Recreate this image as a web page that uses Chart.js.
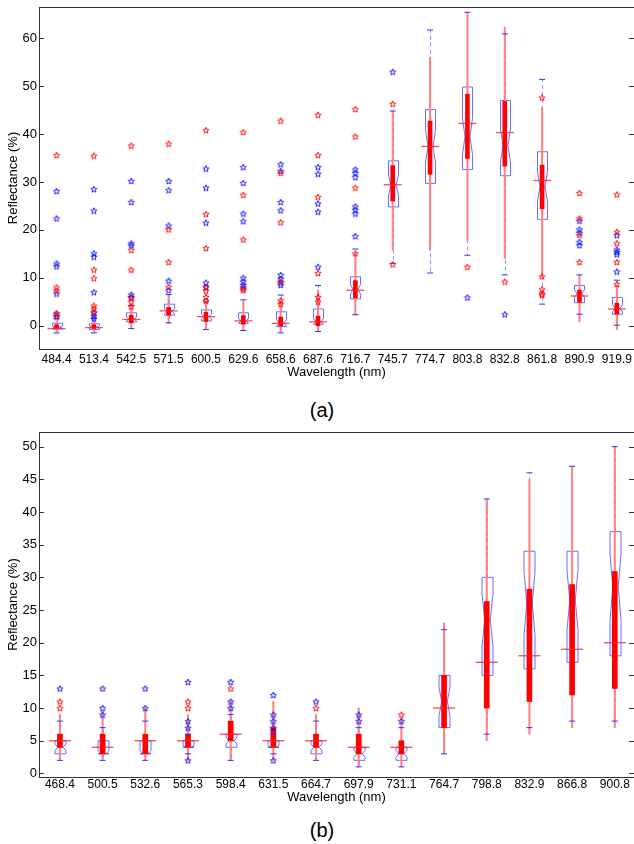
<!DOCTYPE html>
<html>
<head>
<meta charset="utf-8">
<script src="https://cdn.jsdelivr.net/npm/chart.js@4.4.1/dist/chart.umd.min.js"></script>
<style>
  body { margin: 0; width: 634px; height: 844px; overflow: hidden; background: #fff; position: relative;
         font-family: "Liberation Sans", Arial, sans-serif; }
  canvas { position: absolute; left: 0; }
  .cap { position: absolute; left: 0; width: 644px; text-align: center; font-size: 20px; line-height: 24px; color: #000; }
</style>
</head>
<body>
<canvas id="chartA" width="640" height="380" style="top:0"></canvas>
<div class="cap" style="top:398px">(a)</div>
<canvas id="chartB" width="640" height="380" style="top:425px"></canvas>
<div class="cap" style="top:818px">(b)</div>
<script>
// ---- panel (a) ----
const aLabels = ['484.4', '513.4', '542.5', '571.5', '600.5', '629.6', '658.6', '687.6',
                 '716.7', '745.7', '774.7', '803.8', '832.8', '861.8', '890.9', '919.9'];
const aTicks = [0, 10, 20, 30, 40, 50, 60];

const aBlueLo  = [-1.5, -1.5, -0.6, 0.6, -0.8, -1.0, -1.5, -1.2, 2.3, 13.0, 11.0, 14.7, 10.6, 4.5, 2.4, 0.1];
const aBlueQ1  = [-0.7, -0.8, 0.8, 2.2, 1.0, 0.5, -0.2, 0.3, 5.6, 24.8, 29.7, 32.6, 31.3, 22.2, 4.8, 2.4];
const aBlueMed = [-0.3, -0.3, 1.4, 3.0, 1.9, 1.0, 0.6, 0.8, 7.6, 29.3, 37.4, 39.5, 37.6, 29.0, 6.7, 3.6];
const aBlueQ3  = [0.5, 0.4, 2.7, 4.5, 3.3, 2.7, 2.9, 3.5, 10.2, 34.4, 45.1, 49.8, 47.0, 36.3, 8.4, 5.9];
const aBlueHi  = [1.5, 1.5, 4.2, 6.5, 5.0, 5.4, 6.4, 8.4, 16.0, 44.8, 61.7, 65.4, 60.9, 51.4, 10.6, 9.5];
const aBlueOut = [
  [1.9, 2.5, 6.7, 12.4, 13.0, 22.4, 28.1],
  [1.5, 2.0, 2.6, 7.0, 14.4, 15.1, 24.0, 28.5],
  [6.0, 6.5, 16.8, 17.2, 25.8, 30.2],
  [7.4, 9.4, 20.9, 28.3, 30.2],
  [8.1, 9.0, 21.5, 28.8, 32.8],
  [8.0, 8.5, 9.2, 10.0, 21.8, 23.4, 29.8, 33.1],
  [8.5, 9.0, 9.8, 10.6, 24.1, 25.8, 32.3, 33.7],
  [12.3, 23.8, 25.5, 31.7, 33.1],
  [18.7, 23.4, 24.2, 24.9, 31.0, 31.9, 32.6],
  [53.0], [], [5.9], [2.4], [],
  [16.8, 17.5, 19.4, 20.1, 21.9],
  [11.3, 14.9, 15.4, 15.9, 18.9]
];

const aRedLo  = [-1.2, -1.2, -0.5, 0.5, -0.6, -0.9, -1.4, -1.2, 2.2, 15.8, 15.8, 17.8, 14.0, 10.2, 0.8, -0.8];
const aRedQ1  = [-0.6, -0.6, 0.6, 2.2, 0.9, 0.3, -0.1, 0.0, 5.8, 26.0, 31.6, 34.9, 33.3, 24.4, 4.9, 2.4];
const aRedMed = [-0.6, -0.4, 1.3, 3.1, 1.9, 1.0, 0.5, 0.8, 7.4, 29.4, 37.4, 42.2, 40.3, 30.3, 6.2, 3.5];
const aRedQ3  = [0.2, 0.2, 2.2, 3.8, 2.8, 2.1, 1.8, 2.0, 9.4, 33.4, 42.7, 48.3, 46.8, 33.5, 7.4, 4.7];
const aRedHi  = [1.0, 1.5, 4.0, 6.5, 5.0, 5.2, 5.5, 7.5, 15.0, 44.8, 56.0, 65.4, 62.3, 45.5, 10.6, 8.5];
const aRedOut = [
  [2.0, 2.6, 7.3, 8.0, 35.6],
  [2.9, 3.6, 4.2, 9.9, 11.7, 35.5],
  [4.0, 5.0, 5.8, 11.7, 15.8, 37.6],
  [8.1, 13.3, 20.1, 38.0],
  [5.2, 6.0, 7.3, 8.0, 16.2, 23.3, 40.8],
  [7.4, 7.7, 18.0, 27.3, 40.4],
  [4.5, 5.3, 9.2, 21.6, 31.9, 42.8],
  [5.0, 6.0, 11.0, 26.9, 35.6, 44.0],
  [15.1, 28.8, 39.5, 45.2],
  [12.8, 46.3], [], [12.3], [9.2],
  [6.4, 6.7, 7.6, 10.3, 47.6],
  [13.3, 18.9, 22.4, 27.7],
  [8.7, 13.3, 17.2, 19.6, 27.4]
];

// ---- panel (b) ----
const bLabels = ['468.4', '500.5', '532.6', '565.3', '598.4', '631.5', '664.7',
                 '697.9', '731.1', '764.7', '798.8', '832.9', '866.8', '900.8'];
const bTicks = [0, 5, 10, 15, 20, 25, 30, 35, 40, 45, 50];

const bBlueLo  = [2, 2, 2, 3, 2, 3, 2, 1, 1, 3, 6, 7, 8, 8];
const bBlueQ1  = [3, 3, 3, 4, 4, 4, 3, 2, 2, 7, 15, 16, 17, 18];
const bBlueMed = [4, 3, 3, 4, 5, 4, 4, 3, 3, 11, 23.5, 26, 26.5, 28.5];
const bBlueQ3  = [5, 5, 5, 5, 6, 5, 5, 4, 4, 15, 30, 34, 34, 37];
const bBlueHi  = [8, 7, 8, 6, 9, 6, 8, 7, 7, 22, 42, 46, 47, 50];
const bBlueOut = [[13], [9, 10, 13], [10, 13], [2, 7, 8, 14], [10, 11, 14], [2, 7, 8, 9, 12], [11],
                  [8, 9], [8], [], [], [], [], []];

const bRedLo  = [2, 2, 2, 2, 2, 2, 2, 1, 1, 3, 5, 6, 7, 7];
const bRedQ1  = [4, 3, 3, 4, 5, 4, 4, 3, 3, 7, 10, 11, 12, 13];
const bRedMed = [5, 4, 5, 5, 6, 5, 5, 4, 4, 10, 17, 18, 19, 20];
const bRedQ3  = [6, 6, 6, 6, 8, 7, 6, 6, 5, 15, 26.3, 28.2, 28.9, 30.9];
const bRedHi  = [9, 9.5, 10, 9, 11, 11, 9, 10, 8.5, 23, 42, 45, 47, 50];
const bRedOut = [[10, 11], [], [], [10, 11], [13], [], [10], [], [9], [], [], [], [], []];

Chart.defaults.font.family = '"Liberation Sans", Arial, sans-serif';
Chart.defaults.color = '#000';

function starImage(color) {
  const c = document.createElement('canvas');
  c.width = 8;
  c.height = 8;
  const g = c.getContext('2d');
  g.strokeStyle = color;
  g.lineWidth = 0.9;
  g.beginPath();
  for (let i = 0; i < 10; i++) {
    const r = i % 2 ? 1.4 : 3.3;
    const a = -Math.PI / 2 + i * Math.PI / 5;
    const x = 4 + r * Math.cos(a), y = 4.4 + r * Math.sin(a);
    if (i) g.lineTo(x, y); else g.moveTo(x, y);
  }
  g.closePath();
  g.stroke();
  return c;
}

// notched blue boxes, dashed whiskers, frame and inner ticks
function boxPlugin(s) {
  return {
    id: 'boxes',
    beforeDatasetsDraw(chart) {
      const { ctx } = chart;
      const x = chart.scales.x, y = chart.scales.y;
      ctx.save();
      ctx.lineWidth = 1;
      s.blueMed.forEach((m, i) => {
        const cx = Math.round(x.getPixelForValue(i)) + 0.5;
        const w = s.boxHalf, xl = cx - w, xr = cx + w;
        const nd = (s.blueQ3[i] - s.blueQ1[i]) * s.notch;
        const q1 = y.getPixelForValue(s.blueQ1[i]);
        const q3 = y.getPixelForValue(s.blueQ3[i]);
        const n1 = y.getPixelForValue(Math.max(s.blueQ1[i], m - nd));
        const n2 = y.getPixelForValue(Math.min(s.blueQ3[i], m + nd));
        const ym = y.getPixelForValue(m);

        ctx.setLineDash([4, 3]);
        ctx.strokeStyle = 'rgba(70,70,255,0.6)';
        ctx.beginPath();
        ctx.moveTo(cx, q3);
        ctx.lineTo(cx, y.getPixelForValue(s.blueHi[i]));
        ctx.moveTo(cx, q1);
        ctx.lineTo(cx, y.getPixelForValue(s.blueLo[i]));
        ctx.stroke();
        ctx.setLineDash([]);

        ctx.strokeStyle = 'rgba(60,60,255,0.75)';
        ctx.beginPath();
        ctx.moveTo(xl, q1);
        ctx.lineTo(xl, n1);
        ctx.lineTo(xl + w / 2, ym);
        ctx.lineTo(xl, n2);
        ctx.lineTo(xl, q3);
        ctx.lineTo(xr, q3);
        ctx.lineTo(xr, n2);
        ctx.lineTo(xr - w / 2, ym);
        ctx.lineTo(xr, n1);
        ctx.lineTo(xr, q1);
        ctx.closePath();
        ctx.stroke();

        ctx.beginPath();
        ctx.moveTo(xl + w / 2, ym);
        ctx.lineTo(xr - w / 2, ym);
        ctx.stroke();
      });
      ctx.restore();
    },
    afterDraw(chart) {
      const { ctx, chartArea: a } = chart;
      const y = chart.scales.y;
      ctx.save();
      ctx.strokeStyle = '#333';
      ctx.lineWidth = 1;
      ctx.strokeRect(a.left + 0.5, a.top + 0.5, a.right - a.left, a.bottom - a.top);
      ctx.beginPath();
      y.ticks.forEach(t => {
        const py = Math.round(y.getPixelForValue(t.value)) + 0.5;
        ctx.moveTo(a.left, py);
        ctx.lineTo(a.left + 5, py);
        ctx.moveTo(a.right - 5, py);
        ctx.lineTo(a.right, py);
      });
      ctx.stroke();
      ctx.restore();
    }
  };
}

function makeChart(id, s) {
  const pts = arr => arr.map((v, i) => ({ x: i, y: v }));
  const range = (lo, hi) => lo.map((v, i) => ({ x: i, y: [v, hi[i]] }));
  const outs = arr => arr.flatMap((vals, i) => vals.map(v => ({ x: i, y: v })));

  return new Chart(document.getElementById(id), {
    type: 'bar',
    data: {
      datasets: [
        { type: 'line', label: 'red outliers', data: outs(s.redOut), showLine: false,
          pointStyle: starImage('#ff0000') },
        { type: 'line', label: 'blue outliers', data: outs(s.blueOut), showLine: false,
          pointStyle: starImage('#1010ff') },
        { type: 'line', label: 'blue whisker ends', data: pts(s.blueLo).concat(pts(s.blueHi)), showLine: false,
          pointStyle: 'line', pointRadius: 3, pointBorderColor: '#3030ff', pointBorderWidth: 1 },
        { type: 'line', label: 'red median', data: pts(s.redMed), showLine: false,
          pointStyle: 'line', pointRadius: s.medHalf, pointBorderColor: 'rgba(255,30,30,0.8)', pointBorderWidth: 1.3 },
        { label: 'red IQR', data: range(s.redQ1, s.redQ3), backgroundColor: '#ff0000',
          barThickness: s.redBarW, grouped: false },
        { label: 'red whisker', data: range(s.redLo, s.redHi), backgroundColor: 'rgb(255,130,130)',
          barThickness: 1.4, grouped: false }
      ]
    },
    options: {
      responsive: false,
      animation: false,
      events: [],
      layout: { autoPadding: false, padding: { top: 7, right: 6, left: 0, bottom: 0 } },
      plugins: { legend: { display: false }, tooltip: { enabled: false } },
      scales: {
        x: {
          type: 'linear', offset: false, min: s.xMin, max: s.xMax,
          grid: { display: false, drawTicks: false }, border: { display: false },
          afterBuildTicks: sc => { sc.ticks = s.labels.map((_, i) => ({ value: i })); },
          ticks: { callback: v => s.labels[Math.round(v)], autoSkip: false, maxRotation: 0,
                   padding: s.tickPad, font: { size: 12 } },
          title: { display: true, text: 'Wavelength (nm)', font: { size: 13 }, padding: { top: 0, bottom: 0 } },
          afterFit: sc => { sc.height = s.xHeight; sc.paddingLeft = 0; sc.paddingRight = 0; }
        },
        y: {
          min: s.yMin, max: s.yMax,
          grid: { display: false, drawTicks: false }, border: { display: false },
          afterBuildTicks: sc => { sc.ticks = s.ticks.map(v => ({ value: v })); },
          ticks: { padding: 2, font: { size: 13 } },
          title: { display: true, text: 'Reflectance (%)', font: { size: 13 }, padding: { top: 6, bottom: 0 } },
          afterFit: sc => { sc.width = 39; sc.paddingTop = 0; sc.paddingBottom = 0; }
        }
      }
    },
    plugins: [boxPlugin(s)]
  });
}

makeChart('chartA', {
  labels: aLabels, ticks: aTicks,
  blueLo: aBlueLo, blueQ1: aBlueQ1, blueMed: aBlueMed, blueQ3: aBlueQ3, blueHi: aBlueHi, blueOut: aBlueOut,
  redLo: aRedLo, redQ1: aRedQ1, redMed: aRedMed, redQ3: aRedQ3, redHi: aRedHi, redOut: aRedOut,
  xMin: -0.47, xMax: 15.46, yMin: -4.86, yMax: 66.5,
  boxHalf: 5, notch: 0.22, medHalf: 9, redBarW: 4, xHeight: 31, tickPad: 3
});

makeChart('chartB', {
  labels: bLabels, ticks: bTicks,
  blueLo: bBlueLo, blueQ1: bBlueQ1, blueMed: bBlueMed, blueQ3: bBlueQ3, blueHi: bBlueHi, blueOut: bBlueOut,
  redLo: bRedLo, redQ1: bRedQ1, redMed: bRedMed, redQ3: bRedQ3, redHi: bRedHi, redOut: bRedOut,
  xMin: -0.49, xMax: 13.45, yMin: -0.55, yMax: 52.25,
  boxHalf: 5.5, notch: 0.27, medHalf: 11, redBarW: 5, xHeight: 28, tickPad: 0.5
});
</script>
</body>
</html>
